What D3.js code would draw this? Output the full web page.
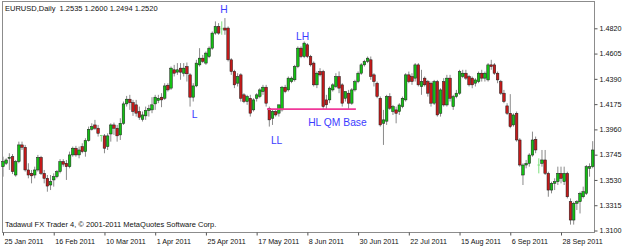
<!DOCTYPE html>
<html>
<head>
<meta charset="utf-8">
<script src="https://cdnjs.cloudflare.com/ajax/libs/d3/7.8.5/d3.min.js"></script>
<style>
  body { margin: 0; background: #fff; }
  svg { display: block; font-family: "Liberation Sans", Arial, sans-serif; }
</style>
</head>
<body>
<div id="chart"></div>
<script>
const width = 625,
    height = 246,
    plotLeft = 2.5,
    plotRight = 594.5,
    plotTop = 1.5,
    plotBottom = 232.5;

// trading days on the chart (weekdays, 25 Jan .. 12 Oct 2011)
const days = d3.timeDay.range(new Date(2011, 0, 25), new Date(2011, 9, 13))
  .filter(d => d.getDay() % 6 !== 0);

const tickLabels = ["25 Jan 2011", "16 Feb 2011", "10 Mar 2011", "1 Apr 2011", "25 Apr 2011",
  "17 May 2011", "8 Jun 2011", "30 Jun 2011", "22 Jul 2011", "15 Aug 2011", "6 Sep 2011", "28 Sep 2011"];
const priceTicks = [1.3100, 1.3315, 1.3530, 1.3745, 1.3960, 1.4175, 1.4390, 1.4605, 1.4820];

// daily OHLC
const open = [1.3643,1.3672,1.3714,1.3728,1.3572,1.3686,1.3828,1.3808,1.3615,1.3586,
  1.3572,1.3615,1.3722,1.3586,1.3544,1.3487,1.3530,1.3558,1.3601,1.3686,
  1.3672,1.3643,1.3743,1.3800,1.3743,1.3814,1.3771,1.3865,1.3961,1.3998,
  1.3970,1.3908,1.3905,1.3814,1.3921,1.3998,1.3970,1.3913,1.4012,1.4177,
  1.4217,1.4188,1.4169,1.4112,1.4046,1.4075,1.4120,1.4126,1.4177,1.4206,
  1.4234,1.4225,1.4336,1.4311,1.4467,1.4447,1.4481,1.4438,1.4495,1.4424,
  1.4234,1.4330,1.4509,1.4566,1.4524,1.4580,1.4651,1.4779,1.4836,1.4815,
  1.4822,1.4822,1.4552,1.4453,1.4353,1.4424,1.4254,1.4197,1.4225,1.4126,
  1.4225,1.4240,1.4282,1.4319,1.4140,1.4055,1.4112,1.4098,1.4126,1.4319,
  1.4296,1.4367,1.4382,1.4495,1.4651,1.4580,1.4680,1.4580,1.4524,1.4339,
  1.4453,1.4453,1.4211,1.4211,1.4296,1.4325,1.4410,1.4339,1.4225,1.4268,
  1.4183,1.4296,1.4367,1.4438,1.4509,1.4538,1.4552,1.4424,1.4353,1.4225,
  1.4012,1.4030,1.4239,1.4112,1.4126,1.4112,1.4154,1.4211,1.4424,1.4410,
  1.4396,1.4509,1.4325,1.4396,1.4367,1.4353,1.4183,1.4367,1.4097,1.4367,
  1.4168,1.4396,1.4154,1.4239,1.4268,1.4410,1.4438,1.4410,1.4396,1.4353,
  1.4367,1.4438,1.4396,1.4381,1.4509,1.4509,1.4438,1.4367,1.4268,1.4160,
  1.4097,1.3998,1.4097,1.3870,1.3572,1.3657,1.3671,1.3742,1.3876,1.3657,
  1.3671,1.3700,1.3586,1.3444,1.3501,1.3515,1.3586,1.3515,1.3586,1.3345,
  1.3189,1.3331,1.3345,1.3387,1.3416,1.3629,1.3643];
const high = [1.3728,1.3714,1.3757,1.3750,1.3700,1.3856,1.3856,1.3828,1.3672,1.3615,
  1.3643,1.3743,1.3735,1.3615,1.3572,1.3572,1.3586,1.3615,1.3707,1.3707,
  1.3700,1.3771,1.3814,1.3820,1.3814,1.3842,1.3885,1.3984,1.4012,1.4041,
  1.3998,1.3913,1.3921,1.3927,1.4012,1.4018,1.3998,1.4055,1.4197,1.4245,
  1.4254,1.4211,1.4211,1.4154,1.4112,1.4154,1.4169,1.4234,1.4254,1.4254,
  1.4268,1.4353,1.4353,1.4495,1.4509,1.4524,1.4524,1.4524,1.4529,1.4438,
  1.4353,1.4552,1.4651,1.4594,1.4623,1.4666,1.4793,1.4879,1.4864,1.4879,
  1.4907,1.4836,1.4566,1.4467,1.4438,1.4438,1.4268,1.4254,1.4254,1.4225,
  1.4268,1.4311,1.4339,1.4339,1.4154,1.4126,1.4126,1.4169,1.4330,1.4339,
  1.4410,1.4410,1.4509,1.4666,1.4666,1.4708,1.4694,1.4594,1.4538,1.4453,
  1.4481,1.4467,1.4254,1.4325,1.4353,1.4438,1.4453,1.4353,1.4282,1.4296,
  1.4311,1.4382,1.4453,1.4524,1.4552,1.4580,1.4580,1.4438,1.4367,1.4240,
  1.4126,1.4254,1.4268,1.4168,1.4154,1.4183,1.4239,1.4438,1.4452,1.4438,
  1.4524,1.4524,1.4467,1.4410,1.4381,1.4367,1.4381,1.4381,1.4310,1.4396,
  1.4424,1.4424,1.4254,1.4296,1.4467,1.4467,1.4467,1.4424,1.4410,1.4396,
  1.4452,1.4467,1.4452,1.4524,1.4552,1.4524,1.4452,1.4381,1.4296,1.4183,
  1.4260,1.4097,1.4112,1.3885,1.3671,1.3700,1.3757,1.3941,1.3899,1.3714,
  1.3785,1.3785,1.3600,1.3515,1.3544,1.3643,1.3643,1.3643,1.3600,1.3373,
  1.3345,1.3359,1.3430,1.3473,1.3657,1.3671,1.3860];
const low = [1.3558,1.3657,1.3615,1.3580,1.3558,1.3672,1.3785,1.3601,1.3544,1.3501,
  1.3544,1.3601,1.3572,1.3501,1.3430,1.3444,1.3473,1.3544,1.3586,1.3643,
  1.3530,1.3629,1.3728,1.3728,1.3714,1.3757,1.3728,1.3856,1.3950,1.3956,
  1.3899,1.3856,1.3757,1.3785,1.3856,1.3913,1.3856,1.3870,1.3998,1.4154,
  1.4126,1.4075,1.4069,1.4041,1.4027,1.4041,1.4069,1.4098,1.4126,1.4183,
  1.4149,1.4211,1.4282,1.4296,1.4410,1.4424,1.4382,1.4410,1.4367,1.4154,
  1.4197,1.4319,1.4495,1.4524,1.4509,1.4566,1.4637,1.4765,1.4765,1.4765,
  1.4765,1.4538,1.4424,1.4311,1.4325,1.4197,1.4183,1.4169,1.4069,1.4112,
  1.4197,1.4225,1.4254,1.4154,1.3984,1.3998,1.4069,1.4069,1.4112,1.4268,
  1.4282,1.4353,1.4367,1.4481,1.4566,1.4566,1.4566,1.4495,1.4325,1.4311,
  1.4410,1.4126,1.4126,1.4183,1.4282,1.4311,1.4268,1.4154,1.4197,1.4126,
  1.4169,1.4282,1.4353,1.4424,1.4495,1.4524,1.4382,1.4325,1.4225,1.3984,
  1.3828,1.3998,1.4126,1.4083,1.4012,1.4083,1.4140,1.4197,1.4353,1.4339,
  1.4367,1.4325,1.4254,1.4325,1.4239,1.4154,1.4168,1.4069,1.4069,1.4154,
  1.4154,1.4197,1.4126,1.4225,1.4254,1.4396,1.4381,1.4325,1.4310,1.4325,
  1.4353,1.4367,1.4367,1.4367,1.4467,1.4424,1.4353,1.4254,1.4183,1.4083,
  1.3970,1.3984,1.3856,1.3643,1.3487,1.3629,1.3643,1.3728,1.3757,1.3586,
  1.3643,1.3572,1.3387,1.3416,1.3444,1.3487,1.3501,1.3487,1.3373,1.3150,
  1.3150,1.3274,1.3245,1.3373,1.3402,1.3558,1.3629];
const close = [1.3686,1.3700,1.3722,1.3601,1.3686,1.3828,1.3808,1.3615,1.3572,1.3565,
  1.3615,1.3722,1.3586,1.3544,1.3478,1.3515,1.3558,1.3601,1.3686,1.3664,
  1.3643,1.3743,1.3800,1.3743,1.3785,1.3771,1.3865,1.3961,1.3984,1.3970,
  1.3927,1.3908,1.3800,1.3905,1.3998,1.3970,1.3905,1.4012,1.4177,1.4217,
  1.4188,1.4112,1.4098,1.4063,1.4083,1.4120,1.4137,1.4169,1.4234,1.4225,
  1.4211,1.4330,1.4296,1.4481,1.4438,1.4467,1.4447,1.4481,1.4433,1.4234,
  1.4330,1.4524,1.4566,1.4538,1.4609,1.4651,1.4779,1.4836,1.4779,1.4815,
  1.4805,1.4552,1.4453,1.4339,1.4410,1.4225,1.4197,1.4240,1.4098,1.4211,
  1.4254,1.4296,1.4319,1.4183,1.4041,1.4112,1.4083,1.4169,1.4319,1.4282,
  1.4396,1.4396,1.4495,1.4651,1.4580,1.4694,1.4580,1.4509,1.4339,1.4438,
  1.4424,1.4154,1.4169,1.4311,1.4339,1.4410,1.4311,1.4183,1.4282,1.4183,
  1.4296,1.4367,1.4438,1.4509,1.4538,1.4566,1.4410,1.4367,1.4240,1.3998,
  1.4041,1.4240,1.4140,1.4154,1.4097,1.4168,1.4225,1.4424,1.4367,1.4367,
  1.4509,1.4339,1.4367,1.4339,1.4268,1.4183,1.4367,1.4083,1.4296,1.4168,
  1.4396,1.4225,1.4239,1.4268,1.4452,1.4438,1.4396,1.4339,1.4339,1.4381,
  1.4438,1.4396,1.4438,1.4509,1.4495,1.4438,1.4381,1.4268,1.4197,1.4097,
  1.3984,1.4083,1.3870,1.3657,1.3657,1.3671,1.3742,1.3870,1.3785,1.3657,
  1.3700,1.3586,1.3444,1.3501,1.3515,1.3586,1.3544,1.3586,1.3387,1.3189,
  1.3331,1.3345,1.3416,1.3430,1.3643,1.3643,1.3785];

// hand-drawn pattern marks (bar index, price)
const labels = [
  { text: "H", i: 69.7, p: 1.4948 },
  { text: "LH", i: 94.5, p: 1.4722 },
  { text: "L", i: 60.4, p: 1.4054 },
  { text: "LL", i: 86.3, p: 1.3837 },
  { text: "HL QM Base", i: 105.5, p: 1.3990 }
];
const qmBase = { from: 83.3, to: 111.3, p: 1.4132 };

const fmt = d3.timeFormat("%-d %b %Y");
const tickIdx = tickLabels.map(t => days.findIndex(d => fmt(d) === t));

const x = d3.scaleLinear().domain([0, 176]).range([3, 561]);
const y = d3.scaleLinear().domain([1.3100, 1.4820]).range([230.5, 28.3]);

const svg = d3.select("#chart").append("svg")
    .attr("width", width)
    .attr("height", height);

svg.append("rect")
    .attr("width", width).attr("height", height)
    .attr("fill", "#fff");

// frame
svg.append("rect")
    .attr("x", plotLeft).attr("y", plotTop)
    .attr("width", plotRight - plotLeft)
    .attr("height", plotBottom - plotTop)
    .attr("fill", "none")
    .attr("stroke", "#8c8c8c");

const bars = days.map((d, i) => ({ i: i, o: open[i], h: high[i], l: low[i], c: close[i] }));

const g = svg.append("g");

// wicks
g.selectAll("line.wick")
  .data(bars)
  .enter()
  .append("line")
    .attr("class", "wick")
    .attr("x1", d => x(d.i)).attr("x2", d => x(d.i))
    .attr("y1", d => y(d.h)).attr("y2", d => y(d.l))
    .attr("stroke", d => d.o === d.c ? "#7de07d" : "#8a8a8a")
    .attr("stroke-width", 1);

// bodies
g.selectAll("rect.body")
  .data(bars.filter(d => d.o !== d.c))
  .enter()
  .append("rect")
    .attr("class", "body")
    .attr("x", d => x(d.i) - 1.3)
    .attr("width", 2.6)
    .attr("y", d => y(Math.max(d.o, d.c)))
    .attr("height", d => Math.max(Math.abs(y(d.o) - y(d.c)), 0.8))
    .attr("fill", d => d.c > d.o ? "#14c014" : "#c41a1a")
    .attr("stroke", "#1a1a1a")
    .attr("stroke-width", 0.5);

// doji ticks
g.selectAll("line.doji")
  .data(bars.filter(d => d.o === d.c))
  .enter()
  .append("line")
    .attr("x1", d => x(d.i) - 1.3).attr("x2", d => x(d.i) + 1.3)
    .attr("y1", d => y(d.o)).attr("y2", d => y(d.o))
    .attr("stroke", "#7de07d");

// QM base line
svg.append("line")
    .attr("x1", x(qmBase.from)).attr("x2", x(qmBase.to))
    .attr("y1", y(qmBase.p)).attr("y2", y(qmBase.p))
    .attr("stroke", "#f0389a")
    .attr("stroke-width", 1.8);

svg.selectAll("text.mark")
  .data(labels)
  .enter()
  .append("text")
    .attr("class", "mark")
    .attr("x", d => x(d.i))
    .attr("y", d => y(d.p))
    .attr("text-anchor", "middle")
    .attr("font-size", "10.3px")
    .attr("fill", "#3c3cff")
    .text(d => d.text);

// price axis on the right
const yAxis = d3.axisRight(y)
    .tickValues(priceTicks)
    .tickSize(3)
    .tickPadding(2)
    .tickFormat(d3.format(".4f"));

svg.append("g")
    .attr("transform", "translate(" + plotRight + ",0)")
    .call(yAxis)
    .call(a => a.select(".domain").remove())
    .call(a => a.selectAll("line").attr("stroke", "#555"))
    .call(a => a.selectAll("text").attr("font-size", "7.2px").attr("fill", "#111"));

// time axis
const xAxis = d3.axisBottom(x)
    .tickValues(tickIdx)
    .tickSize(3)
    .tickPadding(3)
    .tickFormat(i => fmt(days[i]));

svg.append("g")
    .attr("transform", "translate(0," + plotBottom + ")")
    .call(xAxis)
    .call(a => a.select(".domain").remove())
    .call(a => a.selectAll("line").attr("stroke", "#555"))
    .call(a => a.selectAll("text")
        .attr("text-anchor", "start")
        .attr("x", 1)
        .attr("font-size", "7.2px")
        .attr("fill", "#111"));

svg.append("text")
    .attr("x", 5).attr("y", 10.5)
    .attr("font-size", "7.5px")
    .attr("fill", "#111")
    .attr("xml:space", "preserve")
    .style("white-space", "pre")
    .text("EURUSD,Daily  1.2535 1.2600 1.2494 1.2520");

svg.append("text")
    .attr("x", 5).attr("y", 227)
    .attr("font-size", "7.5px")
    .attr("fill", "#111")
    .text("Tadawul FX Trader 4, \u00a9 2001-2011 MetaQuotes Software Corp.");
</script>
</body>
</html>
